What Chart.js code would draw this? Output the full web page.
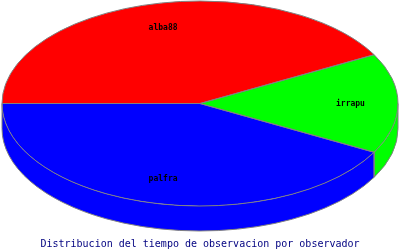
<!DOCTYPE html>
<html><head><meta charset="utf-8">
<style>html,body{margin:0;padding:0;background:#fff}#wrap{width:400px;height:250px}canvas{display:block}</style>
<script src="https://cdn.jsdelivr.net/npm/chart.js@4.4.1/dist/chart.umd.min.js"></script>
</head><body>
<div id="wrap"><canvas id="c"></canvas></div>
<script>
const categories = ['alba88', 'irrapu', 'palfra'];
const hours = [8, 3, 8];
const chartTitle = 'Distribucion del tiempo de observacion por observador';

const KY = 102.5 / 198;   // vertical squash of the pie
const DEPTH = 25;         // thickness of the 3D side
const EDGE = '#808080';

function geom(chart) {
  const meta = chart.getDatasetMeta(0);
  const el = meta.data[0];
  return { cx: el.x, cy: el.y, rx: el.outerRadius, ry: el.outerRadius * KY, els: meta.data };
}
function visibleSegs(s, e) {
  const out = [];
  for (let k = -2; k <= 2; k++) {
    const lo = Math.max(s, 2 * Math.PI * k), hi = Math.min(e, 2 * Math.PI * k + Math.PI);
    if (hi > lo + 1e-6) out.push([lo, hi]);
  }
  return out;
}
const pie3d = {
  id: 'pie3d',
  beforeDatasetsDraw(chart) {
    const ctx = chart.ctx, g = geom(chart);
    g.els.forEach(el => {
      visibleSegs(el.startAngle, el.endAngle).forEach(([a, b]) => {
        ctx.beginPath();
        ctx.ellipse(g.cx, g.cy, g.rx, g.ry, 0, a, b);
        ctx.ellipse(g.cx, g.cy + DEPTH, g.rx, g.ry, 0, b, a, true);
        ctx.closePath();
        ctx.fillStyle = el.options.backgroundColor;
        ctx.fill();
      });
    });
    ctx.save();
    ctx.translate(g.cx, g.cy);
    ctx.scale(1, KY);
    ctx.translate(-g.cx, -g.cy);
  },
  afterDatasetsDraw(chart) {
    const ctx = chart.ctx;
    ctx.restore();
    const g = geom(chart);
    ctx.save();
    ctx.strokeStyle = EDGE;
    ctx.lineWidth = 1;
    g.els.forEach(el => {
      visibleSegs(el.startAngle, el.endAngle).forEach(([a, b]) => {
        ctx.beginPath();
        ctx.moveTo(g.cx + g.rx * Math.cos(a), g.cy + g.ry * Math.sin(a));
        ctx.ellipse(g.cx, g.cy + DEPTH, g.rx, g.ry, 0, a, b);
        ctx.lineTo(g.cx + g.rx * Math.cos(b), g.cy + g.ry * Math.sin(b));
        ctx.stroke();
      });
      ctx.beginPath();
      ctx.moveTo(g.cx, g.cy);
      ctx.ellipse(g.cx, g.cy, g.rx, g.ry, 0, el.startAngle, el.endAngle);
      ctx.closePath();
      ctx.stroke();
    });
    ctx.fillStyle = '#000';
    ctx.font = 'bold 8px "DejaVu Sans Mono", monospace';
    ctx.textAlign = 'center';
    ctx.textBaseline = 'middle';
    g.els.forEach((el, i) => {
      const mid = (el.startAngle + el.endAngle) / 2;
      ctx.fillText(categories[i], g.cx + Math.cos(mid) * g.rx * 0.76, g.cy + Math.sin(mid) * g.ry * 0.76);
    });
    ctx.restore();
  }
};

new Chart(document.getElementById('c'), {
  type: 'pie',
  data: {
    labels: categories,
    datasets: [{
      data: hours,
      backgroundColor: ['#ff0000', '#00ff00', '#0000ff'],
      borderWidth: 0,
      clip: false
    }]
  },
  options: {
    responsive: true,
    maintainAspectRatio: false,
    animation: false,
    rotation: -90,
    radius: 198,
    layout: { padding: 0 },
    plugins: {
      legend: { display: false },
      tooltip: { enabled: false },
      title: {
        display: true,
        text: chartTitle,
        position: 'bottom',
        color: '#000080',
        padding: { top: 31, bottom: 0 },
        font: { family: '"DejaVu Sans Mono", monospace', size: 10, weight: 'normal', lineHeight: 1.2 }
      }
    }
  },
  plugins: [pie3d]
});
</script>
</body></html>
